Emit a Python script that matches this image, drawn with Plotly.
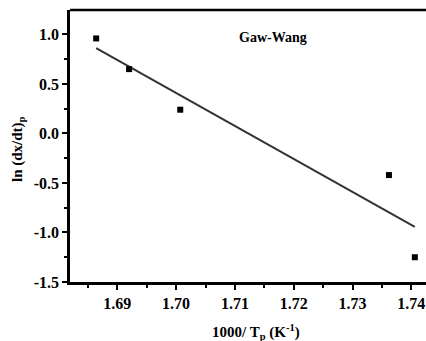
import numpy as np
import plotly.graph_objects as go

# Peak-rate data for the Gaw-Wang plot
inv_tp = [1.6864, 1.6920, 1.7007, 1.7362, 1.7406]   # 1000/Tp (K^-1)
ln_rate = [0.96, 0.65, 0.24, -0.42, -1.25]          # ln (dx/dt)p

x_tickvals = [1.69, 1.70, 1.71, 1.72, 1.73, 1.74]
x_ticktext = ["<b>1.69</b>", "<b>1.70</b>", "<b>1.71</b>", "<b>1.72</b>", "<b>1.73</b>", "<b>1.74</b>"]
y_tickvals = [-1.5, -1.0, -0.5, 0.0, 0.5, 1.0]
y_ticktext = ["<b>-1.5</b>", "<b>-1.0</b>", "<b>-0.5</b>", "<b>0.0</b>", "<b>0.5</b>", "<b>1.0</b>"]

# Least-squares linear fit through the points
slope, intercept = np.polyfit(inv_tp, ln_rate, 1)
fit_x = np.array([min(inv_tp), max(inv_tp)])
fit_y = slope * fit_x + intercept

FONT = "Liberation Serif"

fig = go.Figure()
fig.add_trace(go.Scatter(
    x=fit_x, y=fit_y, mode="lines",
    line=dict(color="#333333", width=2), showlegend=False, hoverinfo="skip"))
fig.add_trace(go.Scatter(
    x=inv_tp, y=ln_rate, mode="markers",
    marker=dict(symbol="square", size=6, color="black"), showlegend=False))

plot_w = 426 - 70
plot_h = 341 - 10 - 59

fig.update_layout(
    width=426, height=341,
    margin=dict(l=70, r=0, t=10, b=59),
    paper_bgcolor="white", plot_bgcolor="white",
    font=dict(family=FONT, color="black"),
    shapes=[dict(type="line", xref="paper", yref="paper",
                 x0=0, x1=1, y0=1, y1=1,
                 line=dict(color="black", width=2.5))],
)

fig.update_xaxes(
    range=[1.68195, 1.7425], tickmode="array",
    tickvals=x_tickvals, ticktext=x_ticktext,
    showline=True, linecolor="black", linewidth=2.5,
    ticks="outside", ticklen=5, tickwidth=2, tickcolor="black",
    showgrid=False, zeroline=False,
    tickfont=dict(family=FONT, size=16, color="black"),
    minor=dict(tickvals=[1.685, 1.695, 1.705, 1.715, 1.725, 1.735],
               ticks="outside", ticklen=3, tickwidth=2, tickcolor="black",
               showgrid=False))
fig.update_yaxes(
    range=[-1.5, 1.247], tickmode="array",
    tickvals=y_tickvals, ticktext=y_ticktext,
    showline=True, linecolor="black", linewidth=2.5,
    ticks="outside", ticklen=5, tickwidth=2, tickcolor="black",
    showgrid=False, zeroline=False,
    tickfont=dict(family=FONT, size=16, color="black"),
    minor=dict(tickvals=[-1.25, -0.75, -0.25, 0.25, 0.75],
               ticks="outside", ticklen=3, tickwidth=2, tickcolor="black",
               showgrid=False))

# Series label inside the frame
fig.add_annotation(
    text="<b>Gaw-Wang</b>",
    x=(273 - 70) / plot_w, y=(281 - 37) / plot_h,
    xref="paper", yref="paper", showarrow=False,
    xanchor="center", yanchor="middle",
    font=dict(family=FONT, size=14, color="black"))

# Axis titles
fig.add_annotation(
    text="<b>1000/ T<sub>p</sub> (K<sup>-1</sup>)</b>",
    x=(256 - 70) / plot_w, y=-(331 - 281) / plot_h,
    xref="paper", yref="paper", showarrow=False,
    xanchor="center", yanchor="middle",
    font=dict(family=FONT, size=15, color="black"))
fig.add_annotation(
    text="<b>ln (dx/dt)<sub>p</sub></b>",
    x=-(70 - 18) / plot_w, y=(281 - 148) / plot_h,
    xref="paper", yref="paper", showarrow=False, textangle=-90,
    xanchor="center", yanchor="middle",
    font=dict(family=FONT, size=15, color="black"))

fig.write_html("out.html")
